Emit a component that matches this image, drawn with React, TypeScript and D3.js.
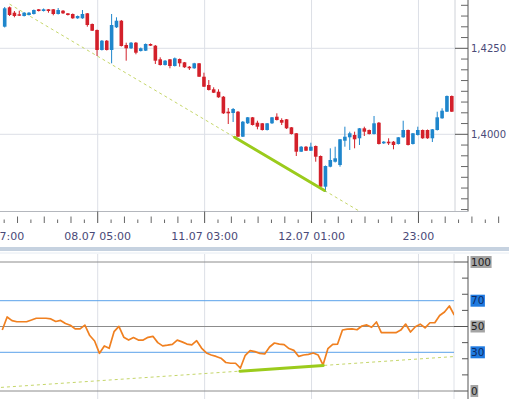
import React from 'react';
import * as d3 from 'd3';

// ---- data (hourly candles, index 0 = first fully visible bar) ----
const opens = [1.43128,1.43692,1.43535,1.43488,1.43439,1.43468,1.43497,1.43634,1.43584,1.43634,
  1.43634,1.43497,1.43593,1.43517,1.43497,1.43372,1.43372,1.43517,1.43206,1.43032,
  1.42451,1.42721,1.42451,1.43110,1.43302,1.42596,1.42500,1.42663,1.42421,1.42430,
  1.42625,1.42576,1.42180,1.42014,1.42180,1.41985,1.42189,1.42093,1.41965,1.41919,
  1.42064,1.41674,1.41433,1.41308,1.41238,1.41093,1.40657,1.40619,1.40657,1.39930,
  1.40320,1.40494,1.40337,1.40320,1.40125,1.40320,1.40512,1.40416,1.40436,1.40203,
  1.40029,1.39494,1.39639,1.39523,1.39660,1.39369,1.38477,1.39058,1.39203,1.39107,
  1.39814,1.39913,1.39980,1.39884,1.40174,1.40125,1.40009,1.40337,1.39738,1.39785,
  1.39785,1.39718,1.39913,1.40125,1.39718,1.39980,1.40125,1.40125,1.39884,1.40125,
  1.40465,1.40657,1.41113];
const closes = [1.43663,1.43468,1.43439,1.43448,1.43535,1.43535,1.43613,1.43584,1.43634,1.43584,
  1.43497,1.43613,1.43517,1.43468,1.43372,1.43439,1.43497,1.43177,1.43012,1.42451,
  1.42721,1.42451,1.43177,1.43302,1.42567,1.42500,1.42663,1.42372,1.42500,1.42625,
  1.42576,1.42140,1.42014,1.42140,1.41985,1.42209,1.42064,1.41948,1.41919,1.42064,
  1.41674,1.41384,1.41288,1.41209,1.41075,1.40610,1.40610,1.40735,1.39930,1.40366,
  1.40494,1.40270,1.40221,1.40125,1.40320,1.40494,1.40416,1.40337,1.40174,1.40009,
  1.39494,1.39639,1.39523,1.39639,1.39349,1.38477,1.39078,1.39253,1.39302,1.39855,
  1.39930,1.40029,1.39855,1.40174,1.40076,1.40009,1.40320,1.39718,1.39785,1.39738,
  1.39689,1.39913,1.40125,1.39689,1.40029,1.40125,1.39884,1.39884,1.40145,1.40494,
  1.40686,1.41113,1.40657];
const highs = [1.43701,1.43715,1.43584,1.43593,1.43555,1.43555,1.43628,1.43642,1.43657,1.43642,
  1.43642,1.43671,1.43613,1.43526,1.43512,1.43453,1.43613,1.43526,1.43221,1.43046,
  1.42741,1.42741,1.43497,1.43401,1.43323,1.42663,1.42683,1.42683,1.42523,1.42640,
  1.42640,1.42596,1.42238,1.42160,1.42189,1.42233,1.42203,1.42102,1.41985,1.42078,
  1.42073,1.41791,1.41578,1.41366,1.41308,1.41113,1.40764,1.40764,1.40677,1.40387,
  1.40503,1.40503,1.40395,1.40328,1.40328,1.40503,1.40610,1.40465,1.40445,1.40212,
  1.40038,1.39660,1.39660,1.39756,1.39674,1.39384,1.39093,1.39593,1.39639,1.39863,
  1.40221,1.40076,1.40076,1.40183,1.40221,1.40139,1.40532,1.40358,1.39805,1.39884,
  1.39805,1.39921,1.40395,1.40139,1.40038,1.40221,1.40139,1.40139,1.40154,1.40657,
  1.40756,1.41128,1.41128];
const lows = [1.43105,1.43439,1.43401,1.43439,1.43424,1.43453,1.43482,1.43570,1.43570,1.43535,
  1.43459,1.43482,1.43497,1.43453,1.43357,1.43357,1.43357,1.43128,1.43003,1.42276,
  1.42436,1.42436,1.42064,1.43090,1.42552,1.42140,1.42480,1.42326,1.42407,1.42421,
  1.42567,1.42044,1.42000,1.42000,1.41919,1.41971,1.41965,1.41933,1.41869,1.41904,
  1.41666,1.41375,1.41273,1.41200,1.41061,1.40590,1.40299,1.40358,1.39921,1.39921,
  1.40299,1.40256,1.40145,1.40110,1.40110,1.40299,1.40401,1.40270,1.40154,1.39994,
  1.39369,1.39485,1.39514,1.39514,1.39203,1.38453,1.38331,1.39041,1.39180,1.39058,
  1.39639,1.39544,1.39593,1.39689,1.39951,1.39994,1.39994,1.39703,1.39718,1.39689,
  1.39564,1.39703,1.39898,1.39674,1.39703,1.39965,1.39869,1.39869,1.39776,1.40110,
  1.40451,1.40648,1.40648];
// RSI: first value belongs to the bar before index 0
const rsi = [47.3,57.4,54.6,53.7,53.7,53.7,55.0,56.4,56.4,56.4,
  55.9,53.9,54.7,52.3,51.0,48.1,48.1,51.1,43.0,38.8,
  29.2,34.9,33.1,46.0,50.1,41.7,39.5,41.4,39.5,39.5,
  41.6,42.4,37.5,35.0,35.5,36.2,39.4,38.1,36.4,35.7,
  39.0,33.3,29.5,27.9,26.8,25.4,22.1,21.5,21.5,17.8,
  27.7,31.3,30.5,29.2,28.7,34.1,37.2,36.4,35.9,32.9,
  31.5,26.8,27.9,28.4,29.5,27.9,20.2,32.8,36.1,36.4,
  47.3,47.9,48.1,47.5,50.4,51.2,49.4,53.5,45.2,45.2,
  45.2,45.2,47.2,51.9,45.7,49.8,51.8,49.0,52.9,52.9,
  58.5,61.2,65.9,58.9];

const timeTickIdx = [-2.86, 19.14, 41.14, 63.14, 85.14];
const timeTickLabels = ['07.07 07:00', '08.07 05:00', '11.07 03:00', '12.07 01:00', '23:00'];
const priceMajor = [1.4, 1.425];
const rsiLevels = [100, 70, 50, 30, 0];
const rsiHighlighted = [70, 30];
const priceTrendIdx = [47.3, 65.8];
const priceTrendVal = [1.39913, 1.38366];
const rsiTrendIdx = [48.4, 65.55];
const rsiTrendVal = [15.4, 19.8];

const UP = '#1f86cc';
const DOWN = '#d3202a';
const GRID = '#dcdfe6';
const TREND = '#9bcb1c';
const TREND_DASH = '#c5d66a';
const TXT = '#4a4a78';
const FONT = 'DejaVu Sans, Verdana, sans-serif';

function extend(idx: number[], val: number[], at: number) {
  const s = (val[1] - val[0]) / (idx[1] - idx[0]);
  return val[0] + (at - idx[0]) * s;
}

export default function App() {
  const W = 509, H = 399;
  const x = d3.scaleLinear().domain([0, 92]).range([4.7, 451.8]);
  const yP = d3.scaleLinear().domain([1.4, 1.425]).range([134.3, 48.3]);
  const yR = d3.scaleLinear().domain([0, 100]).range([391, 262]);
  const topBottom = 211.5;
  const plotRight = 455;
  const rsiRight = 454;
  const axisX = 468;
  const rsiTop = 254;

  const priceTicks = d3.range(0, 20).map(i => 1.4375 - i * 0.003125);
  const fmtP = (v: number) => d3.format('.4f')(v).replace('.', ',');

  const minorTimes: { idx: number; j: number }[] = [];
  for (let t = 0; t < timeTickIdx.length; t++) {
    for (let j = 1; j < 8; j++) minorTimes.push({ idx: timeTickIdx[t] + j * 2.75, j });
  }
  for (let j = 1; j < 8; j++) minorTimes.push({ idx: timeTickIdx[0] - j * 2.75, j: 8 - j });

  const bw = 3.6;
  const rsiLine = d3.line<number>()
    .x((_, i) => x(i - 0.5))
    .y(d => yR(d))(rsi) || '';

  const rsiTicks = d3.range(0, 9).map(i => i * 12.5);

  return (
    <svg width={W} height={H} style={{ position: 'absolute', left: 0, top: 0, background: '#fff' }} fontFamily={FONT}>
      <defs>
        <clipPath id="topclip"><rect x={0} y={0} width={plotRight} height={topBottom} /></clipPath>
        <clipPath id="rsiclip"><rect x={0} y={rsiTop} width={rsiRight} height={H - rsiTop} /></clipPath>
      </defs>
      {/* ---------- top panel ---------- */}
      {priceMajor.map(p => (
        <line key={'hg' + p} x1={0} x2={plotRight} y1={yP(p)} y2={yP(p)} stroke={GRID} strokeWidth={1} />
      ))}
      {timeTickIdx.map(t => (
        <line key={'vg' + t} x1={x(t)} x2={x(t)} y1={0} y2={topBottom} stroke={GRID} strokeWidth={1} />
      ))}
      {timeTickIdx.map(t => (
        <line key={'vg2' + t} x1={x(t)} x2={x(t)} y1={rsiTop} y2={H} stroke={GRID} strokeWidth={1} />
      ))}
      <line x1={plotRight} x2={plotRight} y1={0} y2={topBottom} stroke="#cfd2d8" />
      <g clipPath="url(#topclip)">
        <line
          x1={x(1)} y1={yP(extend(priceTrendIdx, priceTrendVal, 1))}
          x2={x(74)} y2={yP(extend(priceTrendIdx, priceTrendVal, 74))}
          stroke={TREND_DASH} strokeWidth={1} strokeDasharray="3,3" />
        {opens.map((o, i) => {
          const c = closes[i];
          const up = c >= o;
          const col = up ? UP : DOWN;
          const top = yP(Math.max(o, c));
          const bot = yP(Math.min(o, c));
          return (
            <g key={i}>
              <line x1={x(i)} x2={x(i)} y1={yP(highs[i])} y2={yP(lows[i])} stroke={col} strokeWidth={1} />
              <rect x={x(i) - bw / 2} y={top} width={bw} height={Math.max(1.2, bot - top)} fill={col} />
            </g>
          );
        })}
        <line
          x1={x(priceTrendIdx[0])} y1={yP(priceTrendVal[0])}
          x2={x(priceTrendIdx[1])} y2={yP(priceTrendVal[1])}
          stroke={TREND} strokeWidth={3} strokeLinecap="round" />
      </g>
      {/* right price axis */}
      <line x1={axisX} x2={axisX} y1={0} y2={topBottom} stroke="#555" strokeWidth={1} />
      {priceTicks.map(p => {
        const major = priceMajor.some(m => Math.abs(m - p) < 1e-6);
        return (
          <line key={'pt' + p} x1={major ? plotRight : axisX - 7} x2={axisX} y1={yP(p)} y2={yP(p)}
            stroke={major ? '#555' : '#666'} strokeWidth={1} />
        );
      })}
      {priceMajor.map(p => (
        <text key={'pl' + p} x={471} y={yP(p)} dy="0.35em" fontSize={10} fill={TXT}>{fmtP(p)}</text>
      ))}
      {/* time axis */}
      <line x1={0} x2={axisX} y1={topBottom} y2={topBottom} stroke="#b4b7bd" strokeWidth={1} />
      {timeTickIdx.map(t => (
        <line key={'tt' + t} x1={x(t)} x2={x(t)} y1={topBottom} y2={223} stroke="#555" strokeWidth={1} />
      ))}
      {minorTimes.map((m, k) => (
        <line key={'mt' + k} x1={x(m.idx)} x2={x(m.idx)} y1={m.j % 2 === 0 ? 216.5 : 219.5} y2={223}
          stroke="#666" strokeWidth={1} />
      ))}
      {timeTickIdx.map((t, i) => (
        <text key={'tl' + t} x={x(t)} y={239.5} textAnchor="middle" fontSize={11} fill={TXT}>{timeTickLabels[i]}</text>
      ))}
      {/* separator */}
      <rect x={0} y={247} width={W} height={4} fill="#c6d2e0" />
      <line x1={0} x2={W} y1={253} y2={253} stroke="#e6ecf3" />

      {/* ---------- RSI panel ---------- */}
      <line x1={rsiRight} x2={rsiRight} y1={rsiTop} y2={H} stroke="#dfe2e8" />
      {rsiLevels.map(l => (
        <line key={'lv' + l} x1={0} x2={rsiRight} y1={yR(l)} y2={yR(l)}
          stroke={rsiHighlighted.includes(l) ? '#5aa2ea' : '#8c8c8c'} strokeWidth={1} />
      ))}
      <g clipPath="url(#rsiclip)">
        <line
          x1={x(-2)} y1={yR(extend(rsiTrendIdx, rsiTrendVal, -2))}
          x2={x(93)} y2={yR(extend(rsiTrendIdx, rsiTrendVal, 93))}
          stroke={TREND_DASH} strokeWidth={1} strokeDasharray="3,3" />
        <path d={rsiLine} fill="none" stroke="#f08020" strokeWidth={1.7} strokeLinejoin="round" />
        <line
          x1={x(rsiTrendIdx[0])} y1={yR(rsiTrendVal[0])}
          x2={x(rsiTrendIdx[1])} y2={yR(rsiTrendVal[1])}
          stroke={TREND} strokeWidth={3} strokeLinecap="round" />
      </g>
      <line x1={axisX} x2={axisX} y1={256} y2={H} stroke="#555" strokeWidth={1} />
      {rsiTicks.map(t => {
        const major = t % 50 === 0;
        return (
          <line key={'rt' + t} x1={major ? rsiRight : axisX - 6} x2={axisX} y1={yR(t)} y2={yR(t)}
            stroke="#555" strokeWidth={1} />
        );
      })}
      {rsiLevels.map(l => {
        const hi = rsiHighlighted.includes(l);
        const label = String(l);
        const w = label.length * 6.7 + 1;
        return (
          <g key={'rl' + l}>
            <rect x={470.5} y={yR(l) - 6} width={w} height={12} fill={hi ? '#1f7ae0' : '#a4a4a4'} />
            <text x={471} y={yR(l)} dy="0.36em" fontSize={10.5} fill={hi ? '#0d2a66' : '#222'}>{label}</text>
          </g>
        );
      })}
    </svg>
  );
}
